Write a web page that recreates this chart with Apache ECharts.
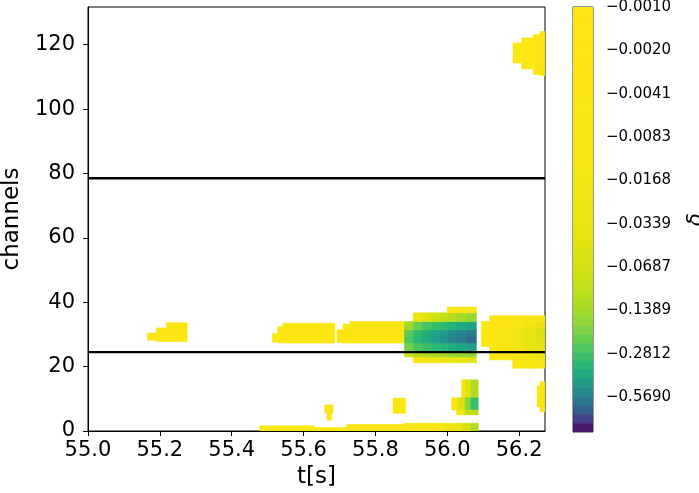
<!DOCTYPE html>
<html><head><meta charset="utf-8">
<script src="https://cdn.jsdelivr.net/npm/echarts@6/dist/echarts.min.js"></script>
<style>html,body{margin:0;padding:0;background:#fff}#c{width:699px;height:493px}</style>
</head><body><div id="c"></div><script>
// ---- axes ----
const xRange = [55.0, 56.272];
const yRange = [0, 131.7];
const xTickStep = 0.2;
const yTickStep = 20;
const refLines = [24.5, 78.5];
const cbTickLabels = ['−0.0010','−0.0020','−0.0041','−0.0083','−0.0168','−0.0339','−0.0687','−0.1389','−0.2812','−0.5690'];
const cbRange = [-1, -0.001];

// ---- data: cells [tStart, tEnd, chLow, chHigh, delta] ----
const blobA = [
  [55.165, 55.19, 28.2, 30.4, -0.003],
  [55.19, 55.218, 27.8, 32.0, -0.003],
  [55.218, 55.276, 27.8, 33.6, -0.003]
];
const blobB1 = [
  [55.513, 55.528, 27.6, 30.3, -0.003],
  [55.528, 55.543, 27.4, 32.4, -0.003],
  [55.543, 55.687, 27.3, 33.5, -0.003]
];
const blobB2 = [
  [55.693, 55.71, 27.5, 31.5, -0.003],
  [55.71, 55.729, 27.3, 33.2, -0.003],
  [55.729, 55.881, 27.3, 34.0, -0.003]
];
// big blob: time column edges and rows [chLow, chHigh, firstColumn, values...]
const blobCEdges = [55.881, 55.905, 55.93, 55.955, 55.98, 56.0, 56.027, 56.054, 56.081];
const blobCRows = [
  [21.2, 23.0, 1, [-0.01, -0.015, -0.02, -0.025, -0.03, -0.035, -0.04]],
  [23.0, 24.6, 0, [-0.08, -0.10, -0.12, -0.13, -0.14, -0.15, -0.16, -0.17]],
  [24.6, 27.4, 0, [-0.20, -0.26, -0.30, -0.33, -0.36, -0.38, -0.42, -0.44]],
  [27.4, 29.2, 0, [-0.26, -0.34, -0.40, -0.45, -0.50, -0.55, -0.60, -0.66]],
  [29.2, 31.4, 0, [-0.24, -0.32, -0.38, -0.43, -0.47, -0.52, -0.56, -0.60]],
  [31.4, 34.0, 0, [-0.14, -0.22, -0.27, -0.30, -0.33, -0.36, -0.40, -0.43]],
  [34.0, 36.7, 1, [-0.03, -0.05, -0.07, -0.09, -0.11, -0.14, -0.16]],
  [36.7, 38.5, 5, [-0.005, -0.008, -0.012]]
];
// right blob
const blobDEdges = [56.095, 56.118, 56.15, 56.182, 56.215, 56.245, 56.272];
const blobDRows = [
  [19.5, 22.1, 3, [-0.006, -0.008, -0.01]],
  [22.1, 24.6, 1, [-0.004, -0.006, -0.01, -0.015, -0.02]],
  [24.6, 26.2, 1, [-0.005, -0.008, -0.015, -0.025, -0.035]],
  [26.2, 29.0, 0, [-0.004, -0.006, -0.01, -0.02, -0.035, -0.045]],
  [29.0, 32.0, 0, [-0.004, -0.006, -0.01, -0.02, -0.04, -0.055]],
  [32.0, 34.0, 0, [-0.003, -0.004, -0.007, -0.012, -0.02, -0.03]],
  [34.0, 35.8, 1, [-0.003, -0.004, -0.006, -0.008, -0.012]]
];
const blobE = [
  [56.183, 56.207, 114.3, 120.5, -0.003],
  [56.207, 56.239, 112.5, 122.1, -0.003],
  [56.239, 56.258, 110.7, 123.1, -0.003],
  [56.258, 56.272, 110.4, 124.1, -0.003]
];
const blobF = [
  [55.478, 55.63, 0, 1.6, -0.003],
  [55.63, 55.72, 0, 1.1, -0.003],
  [55.72, 55.88, 0, 2.0, -0.003],
  [55.88, 55.99, 0, 2.4, -0.004],
  [55.99, 56.04, 0, 2.4, -0.02],
  [56.04, 56.065, 0, 2.4, -0.06],
  [56.065, 56.086, 0, 2.4, -0.12]
];
const blobG = [
  [55.659, 55.682, 5.6, 8.1, -0.003],
  [55.665, 55.678, 3.4, 5.6, -0.003]
];
const blobH = [
  [55.849, 55.884, 5.5, 10.2, -0.003]
];
const blobI = [
  [56.040, 56.052, 10.3, 15.9, -0.01],
  [56.052, 56.066, 10.3, 15.9, -0.05],
  [56.066, 56.086, 10.3, 15.9, -0.12],
  [56.012, 56.03, 6.5, 10.3, -0.01],
  [56.03, 56.05, 6.5, 10.3, -0.06],
  [56.05, 56.066, 6.5, 10.3, -0.18],
  [56.066, 56.086, 6.5, 10.3, -0.3],
  [56.026, 56.05, 5.0, 6.5, -0.02],
  [56.05, 56.086, 5.0, 6.5, -0.1]
];
const blobJ = [
  [56.25, 56.258, 7.5, 14.0, -0.003],
  [56.258, 56.272, 6.0, 15.3, -0.003]
];

const viridis = ['#440154','#48186a','#472d7b','#424086','#3b528b','#33638d','#2c728e','#26828e','#21918c','#1fa088','#22ae7c','#30bc6c','#50c85a','#80d440','#addc22','#d8e20e','#fde612'];

function gridCells(edges, rows) {
  const out = [];
  rows.forEach(r => {
    r[3].forEach((v, k) => {
      const c = r[2] + k;
      out.push([edges[c], edges[c + 1], r[0], r[1], v]);
    });
  });
  return out;
}
const cells = [].concat(blobA, blobB1, blobB2, gridCells(blobCEdges, blobCRows),
  gridCells(blobDEdges, blobDRows), blobE, blobF, blobG, blobH, blobI, blobJ);

// colorbar bands in log10(|delta|)
const cbLog = [Math.log10(-cbRange[1]), Math.log10(-cbRange[0])];
const nBands = 48;
const cbBands = [];
for (let i = 0; i < nBands; i++) {
  const lo = cbLog[0] + (cbLog[1] - cbLog[0]) * i / nBands;
  const hi = cbLog[0] + (cbLog[1] - cbLog[0]) * (i + 1) / nBands;
  cbBands.push([0, 1, lo, hi, -Math.pow(10, (lo + hi) / 2)]);
}
const cbTickVals = cbTickLabels.map(s => Math.log10(Math.abs(parseFloat(s.replace('−', '-')))));

function renderRect(params, api) {
  const a = api.coord([api.value(0), api.value(3)]);
  const b = api.coord([api.value(1), api.value(2)]);
  const c = api.visual('color');
  return {
    type: 'rect',
    shape: {x: Math.min(a[0], b[0]), y: Math.min(a[1], b[1]), width: Math.abs(b[0] - a[0]), height: Math.abs(b[1] - a[1])},
    style: {fill: c, stroke: c, lineWidth: 0.6}
  };
}

const font = 'DejaVu Sans';
const chart = echarts.init(document.getElementById('c'), null, {renderer: 'canvas'});
chart.setOption({
  animation: false,
  backgroundColor: '#fff',
  grid: [
    {left: 88, top: 7, width: 457, height: 424, show: true, borderColor: '#000', borderWidth: 1, backgroundColor: '#fff',
     containLabel: false, outerBoundsMode: 'none'},
    {left: 573, top: 7, width: 20, height: 425, show: true, borderColor: '#333', borderWidth: 1,
     containLabel: false, outerBoundsMode: 'none'}
  ],
  visualMap: {type: 'continuous', show: false, min: cbRange[0], max: 0, dimension: 4, seriesIndex: [0, 1], inRange: {color: viridis}},
  xAxis: [
    {gridIndex: 0, type: 'value', min: xRange[0], max: xRange[1], interval: xTickStep,
     axisLine: {show: true, onZero: false, lineStyle: {color: '#000', width: 1}},
     axisTick: {show: true, length: 5, lineStyle: {color: '#000'}},
     splitLine: {show: false},
     axisLabel: {fontSize: 21, fontFamily: font, color: '#000', margin: 9, formatter: v => v.toFixed(1)},
     name: 't[s]', nameLocation: 'middle', nameGap: 32,
     nameTextStyle: {fontSize: 23, fontFamily: font, color: '#000'}},
    {gridIndex: 1, type: 'value', min: 0, max: 1, show: false}
  ],
  yAxis: [
    {gridIndex: 0, type: 'value', min: yRange[0], max: yRange[1], interval: yTickStep,
     axisLine: {show: true, onZero: false, lineStyle: {color: '#000', width: 1}},
     axisTick: {show: true, length: 5, lineStyle: {color: '#000'}},
     splitLine: {show: false},
     axisLabel: {fontSize: 21, fontFamily: font, color: '#000', margin: 13, showMaxLabel: false},
     name: 'channels', nameLocation: 'middle', nameGap: 61,
     nameTextStyle: {fontSize: 23, fontFamily: font, color: '#000'}},
    {gridIndex: 1, type: 'value', min: cbLog[0], max: cbLog[1], inverse: true, position: 'right',
     axisLine: {show: true, lineStyle: {color: '#333', width: 1}},
     axisTick: {show: true, length: 5, customValues: cbTickVals, lineStyle: {color: '#000'}},
     splitLine: {show: false},
     axisLabel: {fontSize: 15, fontFamily: font, color: '#000', margin: 13, customValues: cbTickVals,
       formatter: v => {
         let best = 0;
         cbTickVals.forEach((t, i) => { if (Math.abs(t - v) < Math.abs(cbTickVals[best] - v)) best = i; });
         return cbTickLabels[best];
       }},
     name: 'δ', nameLocation: 'middle', nameGap: 93,
     nameTextStyle: {fontSize: 21, fontFamily: font, fontStyle: 'italic', color: '#000'}}
  ],
  series: [
    {type: 'custom', xAxisIndex: 0, yAxisIndex: 0, data: cells, encode: {x: [0, 1], y: [2, 3]}, renderItem: renderRect, clip: true, silent: true},
    {type: 'custom', xAxisIndex: 1, yAxisIndex: 1, data: cbBands, encode: {x: [0, 1], y: [2, 3]}, renderItem: renderRect, clip: true, silent: true}
  ].concat(refLines.map(y => ({
    type: 'line', xAxisIndex: 0, yAxisIndex: 0, symbol: 'none', silent: true,
    lineStyle: {color: '#000', width: 2.4}, data: [[xRange[0], y], [xRange[1], y]], z: 5
  })))
});
</script></body></html>
